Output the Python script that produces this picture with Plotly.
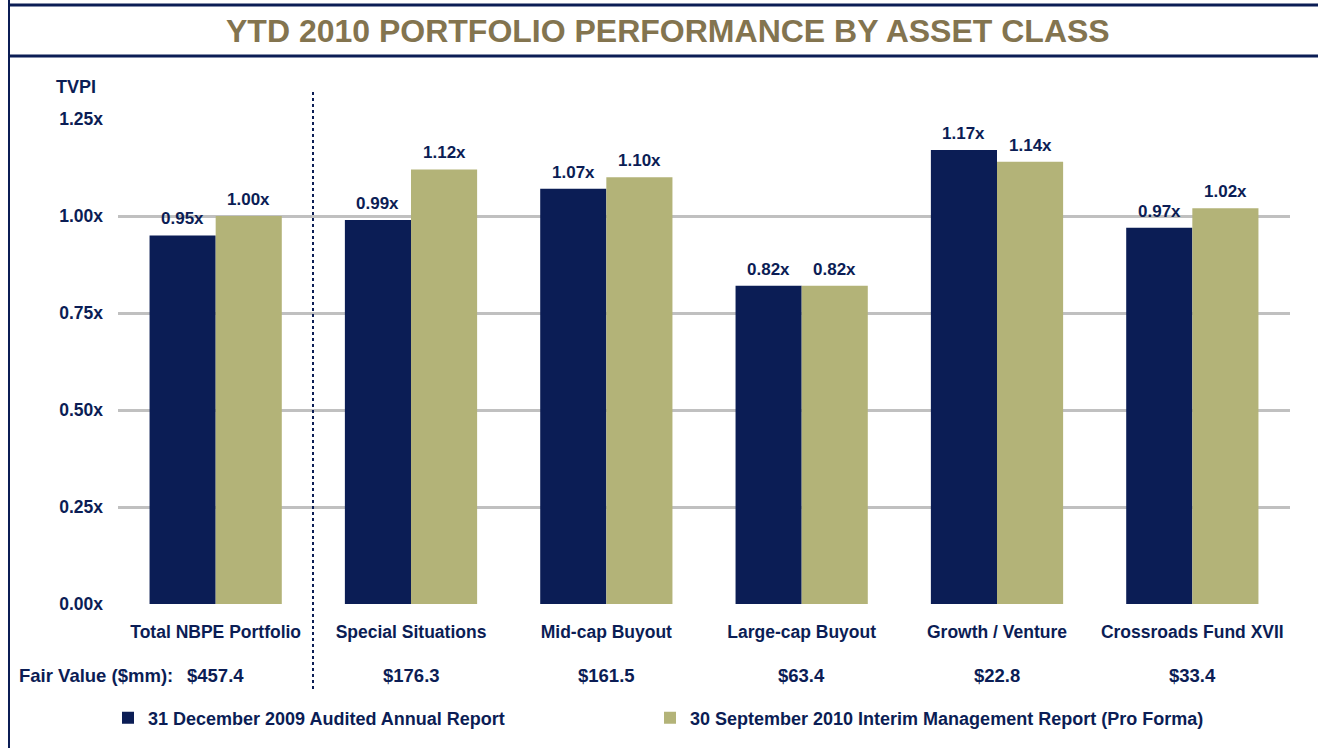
import plotly.graph_objects as go

categories = ["Total NBPE Portfolio", "Special Situations", "Mid-cap Buyout",
              "Large-cap Buyout", "Growth / Venture", "Crossroads Fund XVII"]
tvpi_2009 = [0.95, 0.99, 1.07, 0.82, 1.17, 0.97]
tvpi_2010 = [1.00, 1.12, 1.10, 0.82, 1.14, 1.02]
fair_values = ["$457.4", "$176.3", "$161.5", "$63.4", "$22.8", "$33.4"]
series_names = ["31 December 2009 Audited Annual Report",
                "30 September 2010 Interim Management Report (Pro Forma)"]
y_ticks = [0, 0.25, 0.5, 0.75, 1.0, 1.25]

NAVY = "#0B1D55"
OLIVE = "#B3B378"
TITLE_C = "#83744F"
GRID = "#C0C0C0"
FONT = "Liberation Sans"

W, H = 1318, 748
ML, MR, MT, MB = 118, 28, 119, 144
plot_h = H - MT - MB
plot_w = W - ML - MR
BARGAP = 0.323
bar_px = plot_w / len(categories) * (1 - BARGAP) / 2


def py(px):
    return (H - MB - px) / plot_h


def pxx(px):
    return (px - ML) / plot_w


fig = go.Figure()
fig.add_trace(go.Bar(
    x=categories, y=tvpi_2009, name=f"<b>{series_names[0]}</b>",
    marker=dict(color=NAVY, line=dict(width=0)), hoverinfo="x+y", legend="legend",
))
fig.add_trace(go.Bar(
    x=categories, y=tvpi_2010, name=f"<b>{series_names[1]}</b>",
    marker=dict(color=OLIVE, line=dict(width=0)), hoverinfo="x+y", legend="legend2",
))

annotations = [
    dict(text="<b>YTD 2010 PORTFOLIO PERFORMANCE BY ASSET CLASS</b>",
         xref="paper", yref="paper", x=pxx(668), y=py(31), xanchor="center", yanchor="middle",
         showarrow=False, font=dict(family=FONT, size=32, color=TITLE_C)),
    dict(text="<b>TVPI</b>", xref="paper", yref="paper", x=pxx(54), y=py(87),
         xanchor="left", yanchor="middle", showarrow=False,
         font=dict(family=FONT, size=18, color=NAVY)),
    dict(text="<b>Fair Value ($mm):</b>", xref="paper", yref="paper", x=pxx(17), y=py(675),
         xanchor="left", yanchor="middle", showarrow=False,
         font=dict(family=FONT, size=18.5, color=NAVY)),
]
for c, fv in zip(categories, fair_values):
    annotations.append(dict(text=f"<b>{fv}</b>", xref="x", yref="paper", x=c, y=py(675),
                            xanchor="center", yanchor="middle", showarrow=False,
                            font=dict(family=FONT, size=18.5, color=NAVY)))

# value labels above each bar
for series, shift in ((tvpi_2009, -bar_px / 2), (tvpi_2010, bar_px / 2)):
    for c, v in zip(categories, series):
        annotations.append(dict(text=f"<b>{v:.2f}x</b>", xref="x", yref="y", x=c, y=v,
                                xshift=shift, yshift=5, xanchor="center", yanchor="bottom",
                                showarrow=False,
                                font=dict(family=FONT, size=17, color=NAVY)))

shapes = [
    # frame lines
    dict(type="line", xref="paper", yref="paper", x0=pxx(9), x1=pxx(9), y0=py(0), y1=py(748),
         line=dict(color=NAVY, width=2)),
    dict(type="line", xref="paper", yref="paper", x0=pxx(8), x1=pxx(1318), y0=py(5), y1=py(5),
         line=dict(color=NAVY, width=3)),
    dict(type="line", xref="paper", yref="paper", x0=pxx(8), x1=pxx(1318), y0=py(56), y1=py(56),
         line=dict(color=NAVY, width=3)),
    # dotted separator
    dict(type="line", xref="paper", yref="paper", x0=pxx(313), x1=pxx(313), y0=py(92), y1=py(692),
         line=dict(color=NAVY, width=2, dash="dot")),
]

legend_common = dict(orientation="h", xanchor="left", yanchor="middle",
                     font=dict(family=FONT, size=18, color=NAVY), itemwidth=30,
                     bgcolor="rgba(0,0,0,0)")

fig.update_layout(
    width=W, height=H,
    margin=dict(l=ML, r=MR, t=MT, b=MB),
    paper_bgcolor="white", plot_bgcolor="white",
    barmode="group", bargap=BARGAP, bargroupgap=0,
    font=dict(family=FONT, color=NAVY),
    showlegend=True,
    legend=dict(x=pxx(108), y=py(718), **legend_common),
    legend2=dict(x=pxx(650), y=py(718), **legend_common),
    annotations=annotations,
    shapes=shapes,
    xaxis=dict(showgrid=False, showline=False, zeroline=False, ticks="",
               tickvals=categories, ticktext=[f"<b>{c}</b>" for c in categories],
               tickfont=dict(family=FONT, size=17.5, color=NAVY),
               ticklabelstandoff=15),
    yaxis=dict(range=[0, 1.25], tickvals=y_ticks,
               ticktext=[f"<b>{v:.2f}x</b>" for v in y_ticks],
               showgrid=True, gridcolor=GRID, gridwidth=3, zeroline=False,
               showline=False, ticks="", ticklabelstandoff=14,
               tickfont=dict(family=FONT, size=17.5, color=NAVY)),
)

fig.write_html("out.html", config={"displayModeBar": False},
               post_script="document.body.style.margin='0';")
